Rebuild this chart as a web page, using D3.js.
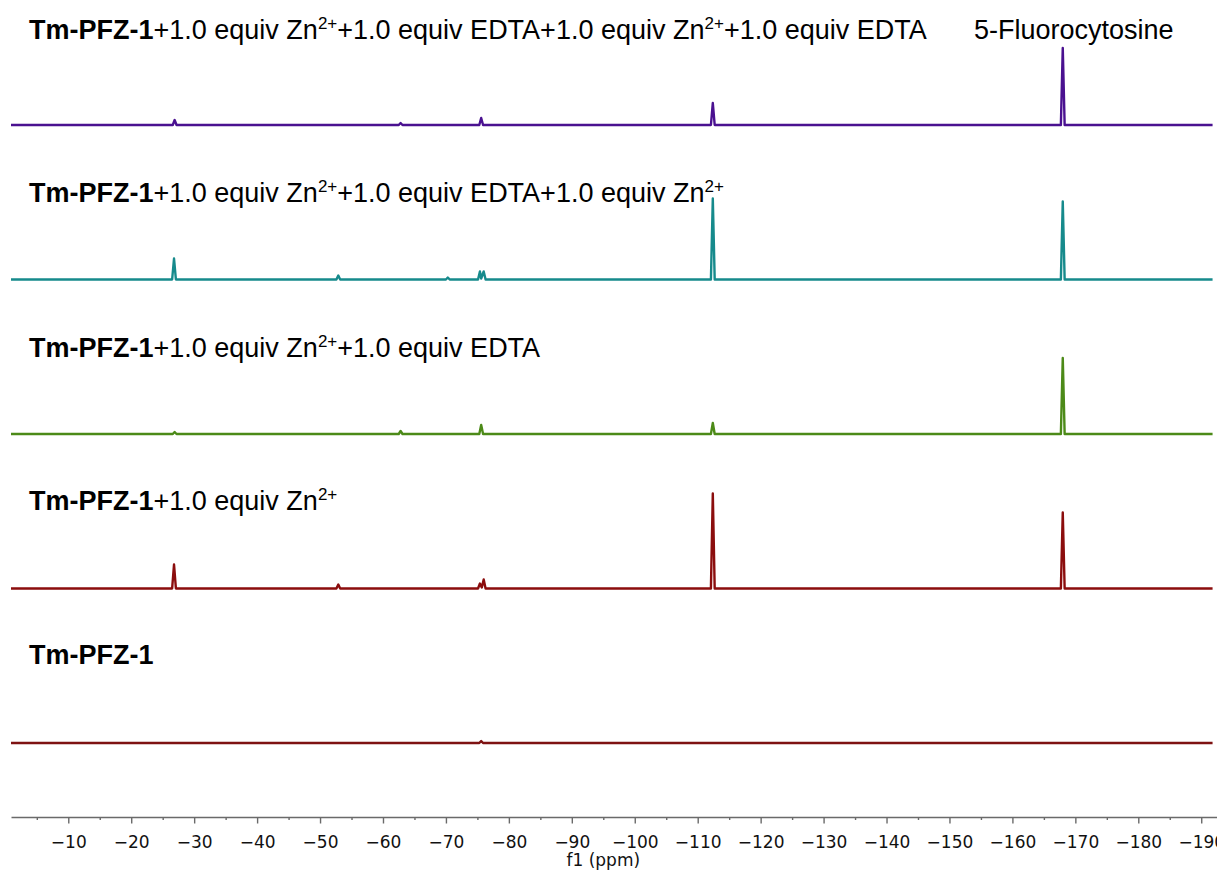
<!DOCTYPE html>
<html><head><meta charset="utf-8">
<script src="https://cdn.jsdelivr.net/npm/d3@7"></script>
<style>
body{margin:0;background:#fff}
svg{display:block}
</style></head><body>
<svg id="chart" width="1217" height="871"></svg>
<script>
// Stacked 19F NMR spectra of Tm-PFZ-1 during Zn2+/EDTA cycling.
// Each spectrum: [chemical shift in ppm, intensity] pairs.

const rowKeys = ["cycle2", "cycle1Zn", "cycle1Edta", "zn", "probe"];

const rowLabels = [
  "**Tm-PFZ-1**+1.0 equiv Zn^{2+}+1.0 equiv EDTA+1.0 equiv Zn^{2+}+1.0 equiv EDTA",
  "**Tm-PFZ-1**+1.0 equiv Zn^{2+}+1.0 equiv EDTA+1.0 equiv Zn^{2+}",
  "**Tm-PFZ-1**+1.0 equiv Zn^{2+}+1.0 equiv EDTA",
  "**Tm-PFZ-1**+1.0 equiv Zn^{2+}",
  "**Tm-PFZ-1**"
];
const refLabel = "5-Fluorocytosine";

const rowColors = ["#4a1190", "#168a8c", "#4c8a18", "#8b0d0d", "#7e1212"];

const specCycle2 = [
  [-0.9, 0], [-26.6, 0], [-26.9, 5], [-27.2, 0],
  [-62.5, 0], [-62.8, 2], [-63.1, 0],
  [-75.3, 0], [-75.6, 7], [-75.9, 0],
  [-112.1, 0], [-112.4, 22], [-112.7, 0],
  [-167.7, 0], [-168.0, 77], [-168.3, 0], [-191.8, 0]
];
const specCycle1Zn = [
  [-0.9, 0], [-26.5, 0], [-26.8, 21], [-27.1, 0],
  [-52.6, 0], [-52.9, 4], [-53.2, 0],
  [-70.0, 0], [-70.3, 2], [-70.6, 0],
  [-75.1, 0], [-75.4, 8], [-75.6, 1], [-76.0, 8], [-76.3, 0],
  [-112.1, 0], [-112.4, 81], [-112.7, 0],
  [-167.7, 0], [-168.0, 78], [-168.3, 0], [-191.8, 0]
];
const specCycle1Edta = [
  [-0.9, 0], [-26.6, 0], [-26.9, 2], [-27.2, 0],
  [-62.5, 0], [-62.8, 3], [-63.1, 0],
  [-75.3, 0], [-75.6, 9], [-75.9, 0],
  [-112.1, 0], [-112.4, 11], [-112.7, 0],
  [-167.7, 0], [-168.0, 76], [-168.3, 0], [-191.8, 0]
];
const specZn = [
  [-0.9, 0], [-26.5, 0], [-26.8, 24], [-27.1, 0],
  [-52.6, 0], [-52.9, 4], [-53.2, 0],
  [-75.1, 0], [-75.4, 5], [-75.7, 1], [-76.0, 9], [-76.3, 0],
  [-112.1, 0], [-112.4, 95], [-112.7, 0],
  [-167.7, 0], [-168.0, 76], [-168.3, 0], [-191.8, 0]
];
const specProbe = [
  [-0.9, 0], [-75.3, 0], [-75.6, 2], [-75.9, 0], [-191.8, 0]
];
const spectra = [specCycle2, specCycle1Zn, specCycle1Edta, specZn, specProbe];

const majorTicks = [-10, -20, -30, -40, -50, -60, -70, -80, -90, -100,
  -110, -120, -130, -140, -150, -160, -170, -180, -190];
const minorTicks = [-5, -15, -25, -35, -45, -55, -65, -75, -85, -95, -105,
  -115, -125, -135, -145, -155, -165, -175, -185];
const axisTitle = "f1 (ppm)";

// ---- layout ----
const svg = d3.select("#chart");

const x = d3.scaleLinear().domain([-0.9, -192.6]).range([11, 1217.6]);
// vertical position of each spectrum's baseline
const row = d3.scalePoint().domain(rowKeys).range([125, 743]);
// intensity → upward pixel offset from the baseline
const amp = d3.scaleLinear().domain([0, 100]).range([0, -100]);

const line = d3.line()
  .x(d => x(d[0]))
  .y(d => amp(d[1]));

const rows = svg.selectAll("g.row")
  .data(rowKeys)
  .join("g")
  .attr("class", "row")
  .attr("transform", k => `translate(0,${row(k)})`);

rows.append("path")
  .attr("d", (k, i) => line(spectra[i]))
  .attr("fill", "none")
  .attr("stroke", (k, i) => rowColors[i])
  .attr("stroke-width", 2.4)
  .attr("stroke-linejoin", "round");

// labels with bold compound name and superscript charges
function writeLabel(textSel, str) {
  const parts = str.split(/(\*\*.+?\*\*|\^\{.+?\})/).filter(s => s.length);
  let raised = false;
  parts.forEach(p => {
    const t = textSel.append("tspan");
    if (p.startsWith("**")) {
      t.text(p.slice(2, -2)).attr("font-weight", "bold");
      if (raised) { t.attr("dy", 10); raised = false; }
    } else if (p.startsWith("^{")) {
      t.text(p.slice(2, -1)).attr("font-size", 17).attr("dy", -10);
      raised = true;
    } else {
      t.text(p);
      if (raised) { t.attr("dy", 10); raised = false; }
    }
  });
}

const labelOffset = [-86, -78, -77, -79, -79];
rows.append("text")
  .attr("x", 29)
  .attr("y", (k, i) => labelOffset[i])
  .attr("font-family", "'Liberation Sans', Arial, sans-serif")
  .attr("font-size", 27)
  .attr("fill", "#000")
  .each(function (k, i) { writeLabel(d3.select(this), rowLabels[i]); });

svg.append("text")
  .attr("x", 974)
  .attr("y", row(rowKeys[0]) - 86)
  .attr("font-family", "'Liberation Sans', Arial, sans-serif")
  .attr("font-size", 27)
  .attr("fill", "#000")
  .text(refLabel);

// ---- ppm axis ----
const axisY = 817;
const fmt = v => String(v).replace("-", "\u2212");

const gMinor = svg.append("g")
  .attr("transform", `translate(0,${axisY})`)
  .call(d3.axisBottom(x).tickValues(minorTicks).tickSize(3).tickFormat(""));
gMinor.select(".domain").remove();

const gAxis = svg.append("g")
  .attr("transform", `translate(0,${axisY})`)
  .call(d3.axisBottom(x).tickValues(majorTicks).tickSize(6.5).tickSizeOuter(0).tickFormat(fmt));

svg.selectAll(".domain").attr("stroke", "#6a6a6a").attr("stroke-width", 1.6);
svg.selectAll(".tick line").attr("stroke", "#6a6a6a").attr("stroke-width", 1.4);
gAxis.selectAll(".tick text")
  .attr("y", 31).attr("dy", 0)
  .attr("font-family", "'DejaVu Sans', sans-serif")
  .attr("font-size", 17)
  .attr("fill", "#111");

svg.append("text")
  .attr("x", x(-95))
  .attr("y", 866)
  .attr("text-anchor", "middle")
  .attr("font-family", "'DejaVu Sans', sans-serif")
  .attr("font-size", 17)
  .attr("fill", "#111")
  .text(axisTitle);
</script>
</body></html>
